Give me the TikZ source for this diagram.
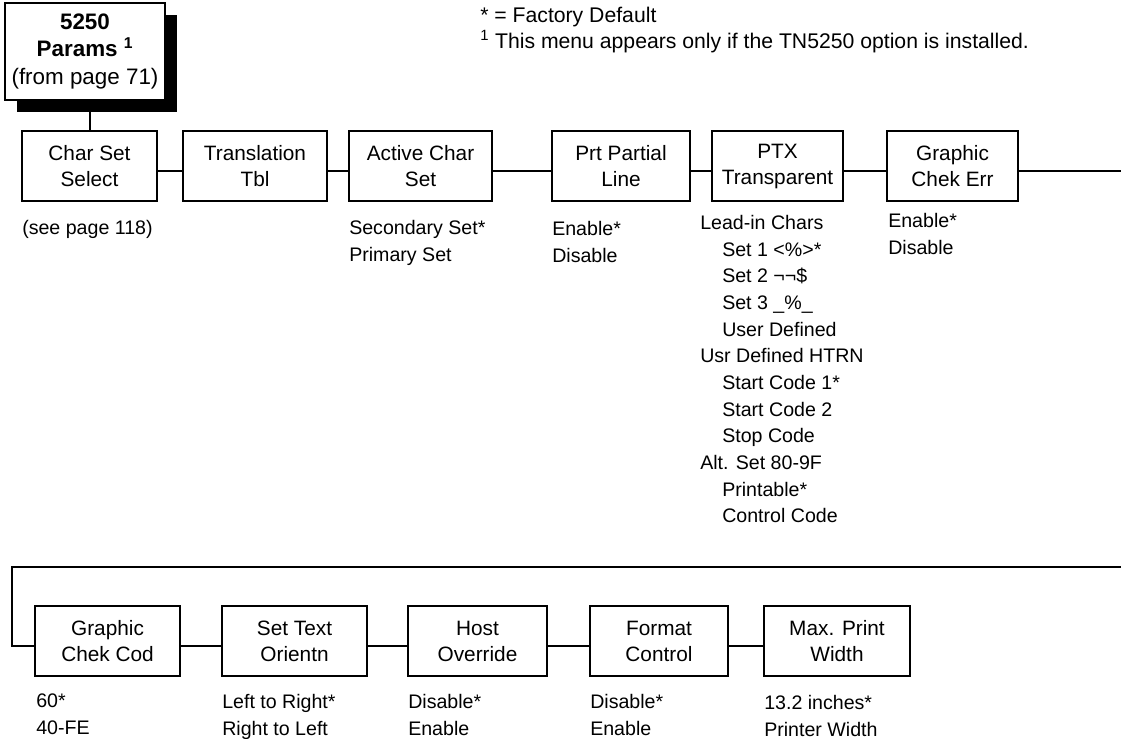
\documentclass[tikz,border=0pt]{standalone}
\usepackage{fontspec}
\setmainfont{Liberation Sans}
\usetikzlibrary{positioning,shadows}

\newcommand{\ind}{\hspace*{16.5pt}}

\begin{document}
\begin{tikzpicture}[
    x=0.75pt, y=-0.75pt,
    every node/.style={font=\fontsize{14.7}{20}\selectfont},
    menubox/.style={draw=black, line width=1.5pt, align=center, minimum height=52.5pt, inner sep=2pt,
        font=\fontsize{15.6}{19.5}\selectfont},
    parambox/.style={menubox, minimum width=120pt, minimum height=72.75pt, fill=white,
        font=\fontsize{16.8}{20.6}\selectfont,
        drop shadow={shadow xshift=9pt, shadow yshift=-9pt, fill=black, opacity=1}},
    optlist/.style={align=left, anchor=north west, inner sep=0pt},
    link/.style={line width=1.5pt},
]
\useasboundingbox (0,0) rectangle (1121,739);

% --- heading and notes ---
\node[parambox] (params) at (85,51.5) {\textbf{5250}\\\textbf{Params \textsuperscript{1}}\\(from page 71)};
\node[optlist, font=\fontsize{15.9}{19.5}\selectfont] (notes) at (480,7) {* = Factory Default\\\textsuperscript{1} This menu appears only if the TN5250 option is installed.};

% --- first row ---
\node[menubox, minimum width=101pt] (charset) at (89.5,166) {Char Set\\Select};
\node[menubox, minimum width=108pt] (transl) at (255,166) {Translation\\Tbl};
\node[menubox, minimum width=107pt] (active) at (420.5,166) {Active Char\\Set};
\node[menubox, minimum width=103.5pt] (partial) at (621,166) {Prt Partial\\Line};
\node[menubox, minimum width=98pt] (ptx) at (777.5,166) {PTX\\Transparent};
\node[menubox, minimum width=98pt] (gerr) at (952.5,166) {Graphic\\Chek Err};

\node[optlist] (seepage) at (22,220) {(see page 118)};
\node[optlist] (activeopts) at (349,220) {Secondary Set*\\Primary Set};
\node[optlist] (partialopts) at (552,221) {Enable*\\Disable};
\node[optlist] (ptxopts) at (700,215) {Lead-in Chars\\\ind Set 1 <\%>*\\\ind Set 2 ¬¬\$\\\ind Set 3 \_\%\_\\\ind User Defined\\Usr Defined HTRN\\\ind Start Code 1*\\\ind Start Code 2\\\ind Stop Code\\Alt. Set 80-9F\\\ind Printable*\\\ind Control Code};
\node[optlist] (gerropts) at (888,213) {Enable*\\Disable};

% --- second row ---
\node[menubox, minimum width=109pt] (gcod) at (107.5,641) {Graphic\\Chek Cod};
\node[menubox, minimum width=109pt] (orient) at (294.5,641) {Set Text\\Orientn};
\node[menubox, minimum width=104pt] (override) at (477.5,641) {Host\\Override};
\node[menubox, minimum width=103.5pt] (format) at (659,641) {Format\\Control};
\node[menubox, minimum width=109.5pt] (maxwidth) at (837,641) {Max. Print\\Width};

\node[optlist] (gcodopts) at (36,694) {60*\\40-FE};
\node[optlist] (orientopts) at (222,694) {Left to Right*\\Right to Left};
\node[optlist] (overrideopts) at (408,694) {Disable*\\Enable};
\node[optlist] (formatopts) at (590,694) {Disable*\\Enable};
\node[optlist] (widthopts) at (764,695) {13.2 inches*\\Printer Width};

% --- connectors ---
\coordinate (outR) at (1121,0);
\coordinate (backR) at (1121,567);
\coordinate (backL) at (12,567);

\draw[link] (params.south -| charset.north) -- (charset.north);
\foreach \a/\b in {charset/transl, transl/active, active/partial, partial/ptx, ptx/gerr, gcod/orient, orient/override, override/format, format/maxwidth} {
    \draw[link] ([yshift=-4pt]\a.east) -- ([yshift=-4pt]\b.west);
}
\draw[link] ([yshift=-4pt]gerr.east) -- ([yshift=-4pt]gerr.east -| outR);
\draw[link] (backR) -- (backL) |- ([yshift=-4pt]gcod.west);

\end{tikzpicture}
\end{document}
